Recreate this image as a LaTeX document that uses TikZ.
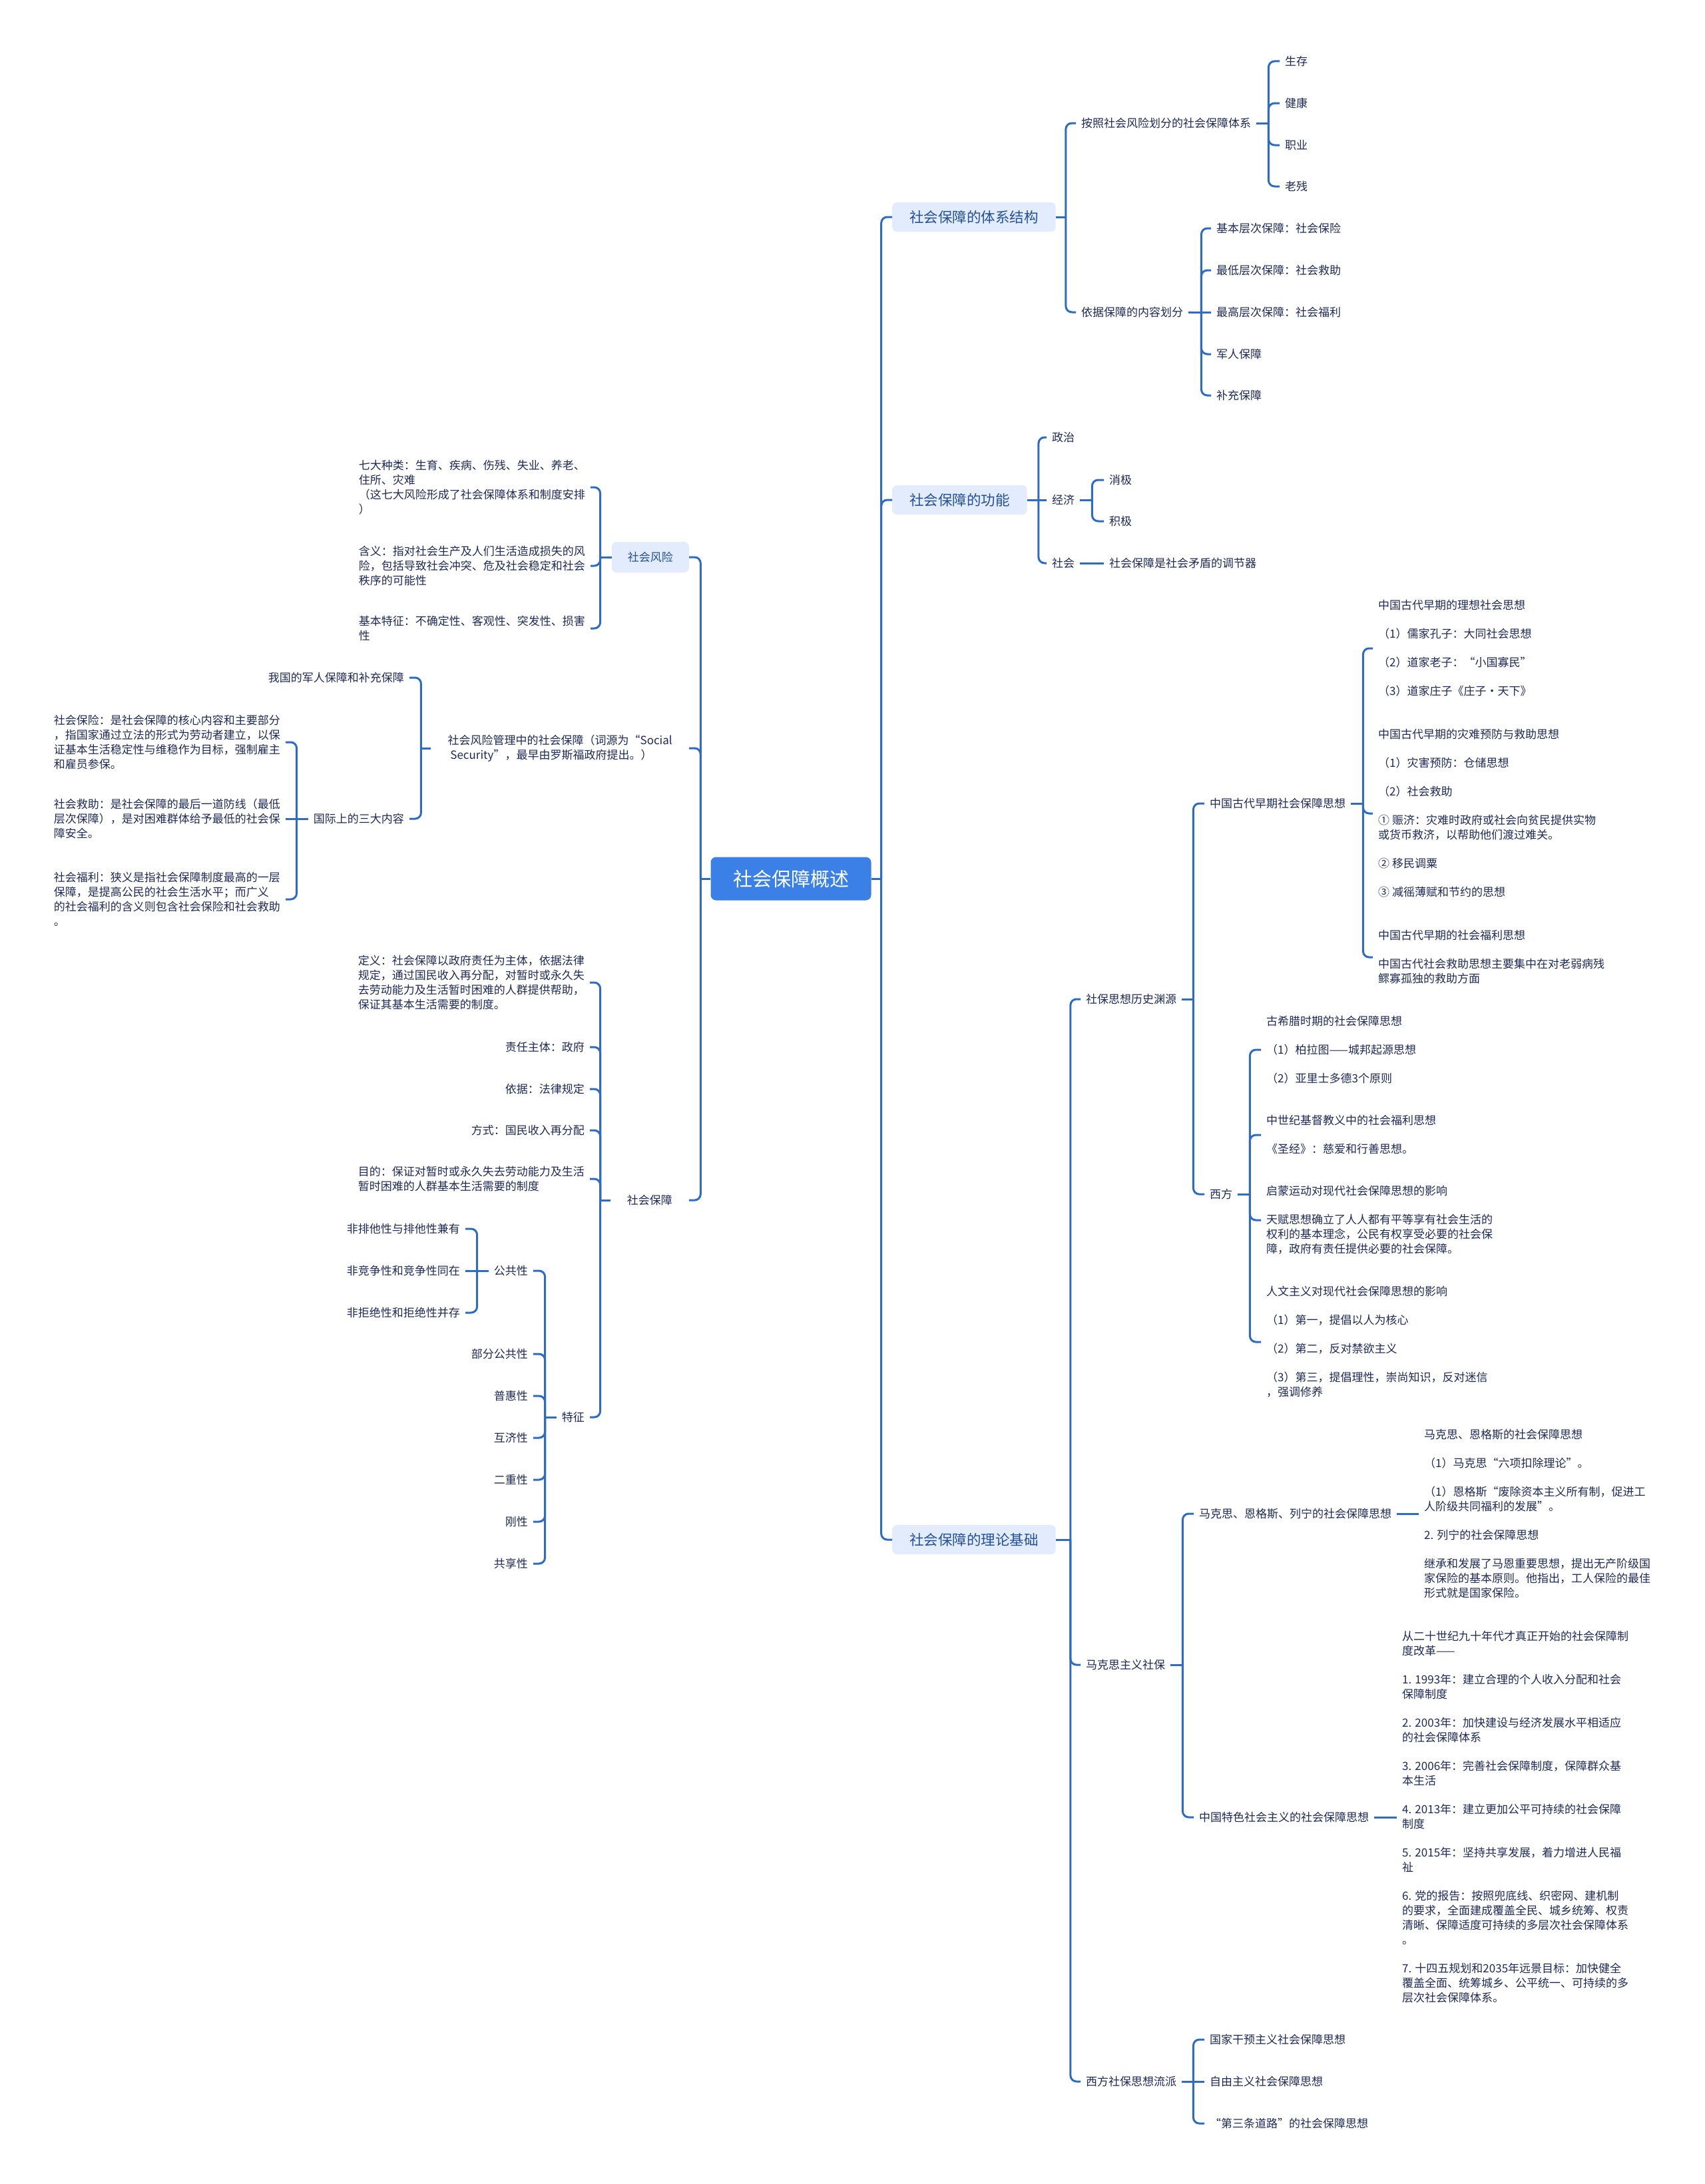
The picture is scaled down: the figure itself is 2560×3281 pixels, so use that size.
\documentclass[tikz,border=0pt]{standalone}
\usepackage{fontspec}
\setmainfont{Noto Sans CJK SC}
\usepackage{tikz}
\usepackage{xcolor}
\definecolor{RootBlue}{RGB}{58,128,230}
\definecolor{SoftBlue}{RGB}{227,236,252}
\definecolor{TopicBlue}{RGB}{35,80,150}
\definecolor{InkNavy}{RGB}{30,42,84}
\definecolor{LinkBlue}{RGB}{46,108,196}
\tikzset{
  rootnode/.style={fill=RootBlue, text=white, rounded corners=8pt,
    font=\fontsize{29}{34}\selectfont, minimum width=241pt, minimum height=65pt},
  topic/.style={fill=SoftBlue, text=TopicBlue, rounded corners=7pt,
    font=\fontsize{21.5}{26}\selectfont, inner xsep=26pt, minimum height=44pt},
  subtopic/.style={fill=SoftBlue, text=TopicBlue, rounded corners=7pt,
    font=\fontsize{17}{22}\selectfont, inner xsep=24pt, minimum height=46pt},
  plaintopic/.style={text=InkNavy, font=\fontsize{17}{22}\selectfont,
    inner xsep=25pt, align=left},
  leaf/.style={text=InkNavy, font=\fontsize{17}{22}\selectfont,
    inner xsep=8pt, inner ysep=3pt, align=left},
  link/.style={draw=LinkBlue, line width=3pt, rounded corners=9pt}
}

\begin{document}
\begin{tikzpicture}[x=1pt, y=-1pt]
  \useasboundingbox (0,0) rectangle (2560,3281);
  \node[rootnode] (root) at (1188,1320) {社会保障概述};

  % right side
  \node[topic, anchor=west] (sys) at (1340,326) {社会保障的体系结构};
  \node[topic, anchor=west] (func) at (1340,751) {社会保障的功能};
  \node[topic, anchor=west] (theory) at (1340,2313) {社会保障的理论基础};

  \node[leaf, anchor=west] (byrisk) at (1616,185) {按照社会风险划分的社会保障体系};
  \node[leaf, anchor=west] (bycontent) at (1616,469) {依据保障的内容划分};
  \node[leaf, anchor=west] (survive) at (1922,92) {生存};
  \node[leaf, anchor=west] (health) at (1922,155) {健康};
  \node[leaf, anchor=west] (job) at (1922,218) {职业};
  \node[leaf, anchor=west] (elder) at (1922,280) {老残};
  \node[leaf, anchor=west] (basic) at (1819,343) {基本层次保障：社会保险};
  \node[leaf, anchor=west] (lowest) at (1819,406) {最低层次保障：社会救助};
  \node[leaf, anchor=west] (highest) at (1819,469) {最高层次保障：社会福利};
  \node[leaf, anchor=west] (army) at (1819,532) {军人保障};
  \node[leaf, anchor=west] (extra) at (1819,594) {补充保障};

  \node[leaf, anchor=west] (politics) at (1572,657) {政治};
  \node[leaf, anchor=west] (economy) at (1572,751) {经济};
  \node[leaf, anchor=west] (society) at (1572,846) {社会};
  \node[leaf, anchor=west] (passive) at (1658,721) {消极};
  \node[leaf, anchor=west] (active) at (1658,783) {积极};
  \node[leaf, anchor=west] (regulator) at (1658,846) {社会保障是社会矛盾的调节器};

  \node[leaf, anchor=west] (history) at (1623,1501) {社保思想历史渊源};
  \node[leaf, anchor=west] (marxism) at (1623,2501) {马克思主义社保};
  \node[leaf, anchor=west] (westschool) at (1623,3127) {西方社保思想流派};

  \node[leaf, anchor=west] (ancient) at (1809,1207) {中国古代早期社会保障思想};
  \node[leaf, anchor=west] (western) at (1809,1794) {西方};
  \node[leaf, anchor=west] (ancA) at (2062,974) {中国古代早期的理想社会思想\\[21pt]
    （1）儒家孔子：大同社会思想\\[21pt]
    （2）道家老子：“小国寡民”\\[21pt]
    （3）道家庄子《庄子·天下》};
  \node[leaf, anchor=west] (ancB) at (2062,1222) {中国古代早期的灾难预防与救助思想\\[21pt]
    （1）灾害预防：仓储思想\\[21pt]
    （2）社会救助\\[21pt]
    ① 赈济：灾难时政府或社会向贫民提供实物\\
    或货币救济，以帮助他们渡过难关。\\[21pt]
    ② 移民调粟\\[21pt]
    ③ 减徭薄赋和节约的思想};
  \node[leaf, anchor=west] (ancC) at (2062,1438) {中国古代早期的社会福利思想\\[21pt]
    中国古代社会救助思想主要集中在对老弱病残\\
    鳏寡孤独的救助方面};
  \node[leaf, anchor=west] (wesA) at (1894,1577) {古希腊时期的社会保障思想\\[21pt]
    （1）柏拉图——城邦起源思想\\[21pt]
    （2）亚里士多德3个原则};
  \node[leaf, anchor=west] (wesB) at (1894,1705) {中世纪基督教义中的社会福利思想\\[21pt]
    《圣经》：慈爱和行善思想。};
  \node[leaf, anchor=west] (wesC) at (1894,1833) {启蒙运动对现代社会保障思想的影响\\[21pt]
    天赋思想确立了人人都有平等享有社会生活的\\
    权利的基本理念，公民有权享受必要的社会保\\
    障，政府有责任提供必要的社会保障。};
  \node[leaf, anchor=west] (wesD) at (1894,2016) {人文主义对现代社会保障思想的影响\\[21pt]
    （1）第一，提倡以人为核心\\[21pt]
    （2）第二，反对禁欲主义\\[21pt]
    （3）第三，提倡理性，崇尚知识，反对迷信\\
    ，强调修养};

  \node[leaf, anchor=west] (mel) at (1793,2274) {马克思、恩格斯、列宁的社会保障思想};
  \node[leaf, anchor=west] (cnsoc) at (1793,2730) {中国特色社会主义的社会保障思想};
  \node[leaf, anchor=west] (melText) at (2131,2274) {马克思、恩格斯的社会保障思想\\[21pt]
    （1）马克思“六项扣除理论”。\\[21pt]
    （1）恩格斯“废除资本主义所有制，促进工\\
    人阶级共同福利的发展”。\\[21pt]
    2. 列宁的社会保障思想\\[21pt]
    继承和发展了马恩重要思想，提出无产阶级国\\
    家保险的基本原则。他指出，工人保险的最佳\\
    形式就是国家保险。};
  \node[leaf, anchor=west] (cnText) at (2098,2730) {从二十世纪九十年代才真正开始的社会保障制\\
    度改革——\\[21pt]
    1. 1993年：建立合理的个人收入分配和社会\\
    保障制度\\[21pt]
    2. 2003年：加快建设与经济发展水平相适应\\
    的社会保障体系\\[21pt]
    3. 2006年：完善社会保障制度，保障群众基\\
    本生活\\[21pt]
    4. 2013年：建立更加公平可持续的社会保障\\
    制度\\[21pt]
    5. 2015年：坚持共享发展，着力增进人民福\\
    祉\\[21pt]
    6. 党的报告：按照兜底线、织密网、建机制\\
    的要求，全面建成覆盖全民、城乡统筹、权责\\
    清晰、保障适度可持续的多层次社会保障体系\\
    。\\[21pt]
    7. 十四五规划和2035年远景目标：加快健全\\
    覆盖全面、统筹城乡、公平统一、可持续的多\\
    层次社会保障体系。};

  \node[leaf, anchor=west] (stateint) at (1809,3064) {国家干预主义社会保障思想};
  \node[leaf, anchor=west] (liberal) at (1809,3127) {自由主义社会保障思想};
  \node[leaf, anchor=west] (thirdway) at (1809,3190) {“第三条道路”的社会保障思想};

  % left side
  \node[subtopic, anchor=east] (risk) at (1035,837) {社会风险};
  \node[plaintopic, anchor=east] (mgmt) at (1035,1124) {社会风险管理中的社会保障（词源为“Social\\
    \ Security”，最早由罗斯福政府提出。）};
  \node[plaintopic, anchor=east] (secur) at (1035,1803) {社会保障};

  \node[leaf, anchor=east] (riskA) at (887,732) {七大种类：生育、疾病、伤残、失业、养老、\\
    住所、灾难\\
    （这七大风险形成了社会保障体系和制度安排\\
    ）};
  \node[leaf, anchor=east] (riskB) at (887,850) {含义：指对社会生产及人们生活造成损失的风\\
    险，包括导致社会冲突、危及社会稳定和社会\\
    秩序的可能性};
  \node[leaf, anchor=east] (riskC) at (887,944) {基本特征：不确定性、客观性、突发性、损害\\
    性};

  \node[leaf, anchor=east] (military) at (615,1018) {我国的军人保障和补充保障};
  \node[leaf, anchor=east] (intl) at (615,1230) {国际上的三大内容};
  \node[leaf, anchor=east] (insA) at (429,1115) {社会保险：是社会保障的核心内容和主要部分\\
    ，指国家通过立法的形式为劳动者建立，以保\\
    证基本生活稳定性与维稳作为目标，强制雇主\\
    和雇员参保。};
  \node[leaf, anchor=east] (insB) at (429,1230) {社会救助：是社会保障的最后一道防线（最低\\
    层次保障），是对困难群体给予最低的社会保\\
    障安全。};
  \node[leaf, anchor=east] (insC) at (429,1351) {社会福利：狭义是指社会保障制度最高的一层\\
    保障，是提高公民的社会生活水平；而广义\\
    的社会福利的含义则包含社会保险和社会救助\\
    。};

  \node[leaf, anchor=east] (defn) at (886,1476) {定义：社会保障以政府责任为主体，依据法律\\
    规定，通过国民收入再分配，对暂时或永久失\\
    去劳动能力及生活暂时困难的人群提供帮助，\\
    保证其基本生活需要的制度。};
  \node[leaf, anchor=east] (subj) at (886,1573) {责任主体：政府};
  \node[leaf, anchor=east] (basis) at (886,1636) {依据：法律规定};
  \node[leaf, anchor=east] (mode) at (886,1698) {方式：国民收入再分配};
  \node[leaf, anchor=east] (goal) at (886,1771) {目的：保证对暂时或永久失去劳动能力及生活\\
    暂时困难的人群基本生活需要的制度};
  \node[leaf, anchor=east] (feature) at (886,2129) {特征};

  \node[leaf, anchor=east] (pub) at (801,1909) {公共性};
  \node[leaf, anchor=east] (partpub) at (801,2034) {部分公共性};
  \node[leaf, anchor=east] (univ) at (801,2097) {普惠性};
  \node[leaf, anchor=east] (mutual) at (801,2160) {互济性};
  \node[leaf, anchor=east] (dual) at (801,2223) {二重性};
  \node[leaf, anchor=east] (rigid) at (801,2286) {刚性};
  \node[leaf, anchor=east] (shared) at (801,2349) {共享性};
  \node[leaf, anchor=east] (nonex) at (699,1846) {非排他性与排他性兼有};
  \node[leaf, anchor=east] (noncomp) at (699,1909) {非竞争性和竞争性同在};
  \node[leaf, anchor=east] (nonrej) at (699,1972) {非拒绝性和拒绝性并存};

  % connectors, right side
  \draw[link] (root.east) -- ++(15,0) coordinate (rootR);
  \foreach \c in {sys,func,theory} \draw[link] (rootR) |- (\c.west);
  \draw[link] (sys.east) -- ++(15,0) coordinate (sysJ);
  \foreach \c in {byrisk,bycontent} \draw[link] (sysJ) |- (\c.west);
  \draw[link] (byrisk.east) -- ++(18,0) coordinate (byriskJ);
  \foreach \c in {survive,health,job,elder} \draw[link] (byriskJ) |- (\c.west);
  \draw[link] (bycontent.east) -- (highest.west);
  \draw[link] (bycontent.east) -- ++(19,0) coordinate (bycontentJ);
  \foreach \c in {basic,lowest,army,extra} \draw[link] (bycontentJ) |- (\c.west);
  \draw[link] (func.east) -- (economy.west);
  \draw[link] (func.east) -- ++(17,0) coordinate (funcJ);
  \foreach \c in {politics,society} \draw[link] (funcJ) |- (\c.west);
  \draw[link] (economy.east) -- ++(18,0) coordinate (economyJ);
  \foreach \c in {passive,active} \draw[link] (economyJ) |- (\c.west);
  \draw[link] (society.east) -- (regulator.west);
  \draw[link] (theory.east) -- ++(22,0) coordinate (theoryJ);
  \foreach \c in {history,marxism,westschool} \draw[link] (theoryJ) |- (\c.west);
  \draw[link] (history.east) -- ++(17,0) coordinate (historyJ);
  \foreach \c in {ancient,western} \draw[link] (historyJ) |- (\c.west);
  \draw[link] (ancient.east) -- ++(18,0) coordinate (ancientJ);
  \foreach \c in {ancA,ancB,ancC} \draw[link] (ancientJ) |- (\c.west);
  \draw[link] (western.east) -- ++(18,0) coordinate (westernJ);
  \foreach \c in {wesA,wesB,wesC,wesD} \draw[link] (westernJ) |- (\c.west);
  \draw[link] (marxism.east) -- ++(18,0) coordinate (marxismJ);
  \foreach \c in {mel,cnsoc} \draw[link] (marxismJ) |- (\c.west);
  \draw[link] (mel.east) -- (melText.west);
  \draw[link] (cnsoc.east) -- (cnText.west);
  \draw[link] (westschool.east) -- (liberal.west);
  \draw[link] (westschool.east) -- ++(17,0) coordinate (westschoolJ);
  \foreach \c in {stateint,thirdway} \draw[link] (westschoolJ) |- (\c.west);

  % connectors, left side
  \draw[link] (root.west) -- ++(-15,0) coordinate (rootL);
  \foreach \c in {risk,mgmt,secur} \draw[link] (rootL) |- (\c.east);
  \draw[link] (risk.west) -- ++(-17,0) coordinate (riskJ);
  \foreach \c in {riskA,riskB,riskC} \draw[link] (riskJ) |- (\c.east);
  \draw[link] (mgmt.west) -- ++(-15,0) coordinate (mgmtJ);
  \foreach \c in {military,intl} \draw[link] (mgmtJ) |- (\c.east);
  \draw[link] (intl.west) -- (insB.east);
  \draw[link] (intl.west) -- ++(-17,0) coordinate (intlJ);
  \foreach \c in {insA,insC} \draw[link] (intlJ) |- (\c.east);
  \draw[link] (secur.west) -- ++(-15,0) coordinate (securJ);
  \foreach \c in {defn,subj,basis,mode,goal,feature} \draw[link] (securJ) |- (\c.east);
  \draw[link] (feature.west) -- ++(-17,0) coordinate (featureJ);
  \foreach \c in {pub,partpub,univ,mutual,dual,rigid,shared} \draw[link] (featureJ) |- (\c.east);
  \draw[link] (pub.west) -- (noncomp.east);
  \draw[link] (pub.west) -- ++(-17,0) coordinate (pubJ);
  \foreach \c in {nonex,nonrej} \draw[link] (pubJ) |- (\c.east);
\end{tikzpicture}
\end{document}
